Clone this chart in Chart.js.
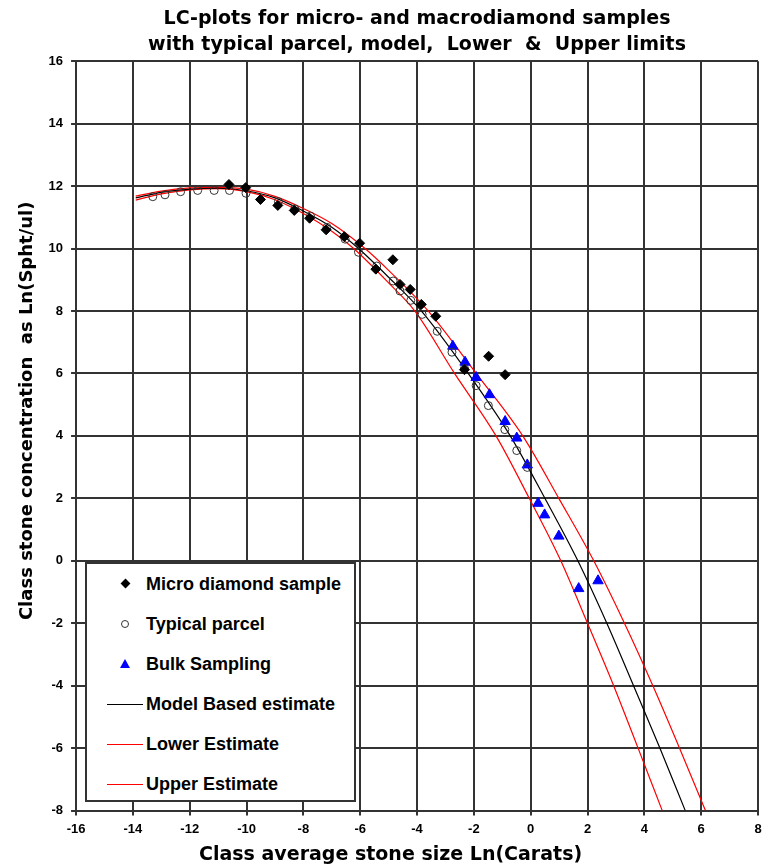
<!DOCTYPE html>
<html>
<head>
<meta charset="utf-8">
<script src="https://cdn.jsdelivr.net/npm/chart.js@4.4.0/dist/chart.umd.min.js"></script>
<style>
  body { margin: 0; background: #fff; font-family: "Liberation Sans", Arial, sans-serif; }
  #wrap { position: relative; width: 765px; height: 868px; }
  #legend {
    position: absolute; left: 85px; top: 562px; width: 267px; height: 236px;
    border: 2px solid #333; background: #fff;
  }
  .row { height: 40px; display: flex; align-items: center; font-weight: bold; font-size: 18px; color: #000; }
  .mk { width: 59px; height: 40px; position: relative; }
  .mk span { position: absolute; }
  .dia { width: 7px; height: 7px; background: #000; left: 35px; top: 16px; transform: rotate(45deg); }
  .cir { width: 6px; height: 6px; border: 1px solid #333; border-radius: 50%; left: 34px; top: 16px; }
  .tri { width: 0; height: 0; border-left: 5px solid transparent; border-right: 5px solid transparent;
         border-bottom: 9px solid #0000ff; left: 33px; top: 15px; }
  .ln { left: 20px; width: 36px; height: 0; top: 20px; border-top: 1.5px solid #000; }
  .ln.red { border-top-color: #ff0000; }
</style>
</head>
<body>
<div id="wrap">
  <canvas id="chart"></canvas>
  <div id="legend">
    <div class="row"><div class="mk"><span class="dia"></span></div>Micro diamond sample</div>
    <div class="row"><div class="mk"><span class="cir"></span></div>Typical parcel</div>
    <div class="row"><div class="mk"><span class="tri"></span></div>Bulk Sampling</div>
    <div class="row"><div class="mk"><span class="ln"></span></div>Model Based estimate</div>
    <div class="row"><div class="mk"><span class="ln red"></span></div>Lower Estimate</div>
    <div class="row"><div class="mk"><span class="ln red"></span></div>Upper Estimate</div>
  </div>
</div>
<script>
// Micro diamond sample
const microX = [-10.62, -10.03, -9.51, -8.9, -8.32, -7.78, -7.2, -6.56, -6.02, -5.45, -4.85, -4.6, -4.24, -3.85, -3.34, -2.33, -1.48, -0.9];
const microY = [12.05, 11.95, 11.57, 11.38, 11.22, 10.97, 10.6, 10.38, 10.17, 9.34, 9.64, 8.85, 8.69, 8.21, 7.83, 6.12, 6.55, 5.96];

// Typical parcel
const parcelX = [-13.3, -12.87, -12.32, -11.72, -11.14, -10.6, -10.02, -8.88, -8.3, -7.75, -7.17, -6.53, -6.06, -5.42, -4.84, -4.6, -4.22, -3.82, -3.29, -2.77, -2.33, -1.92, -1.49, -0.91, -0.49, -0.12];
const parcelY = [11.66, 11.72, 11.82, 11.86, 11.86, 11.86, 11.77, 11.5, 11.27, 11.04, 10.68, 10.3, 9.88, 9.44, 8.96, 8.64, 8.34, 7.89, 7.35, 6.68, 6.16, 5.61, 4.97, 4.2, 3.53, 2.99];

// Bulk Sampling
const bulkX = [-2.74, -2.31, -1.92, -1.45, -0.9, -0.49, -0.12, 0.26, 0.49, 0.99, 1.69, 2.37];
const bulkY = [6.87, 6.36, 5.87, 5.32, 4.46, 3.93, 3.07, 1.84, 1.47, 0.79, -0.89, -0.64];

// curves
const modelX = [-13.9, -13, -12, -11, -10, -9, -8, -7, -6.06, -5, -3.85, -2.2, -0.72, 0.5, 1.66, 2.68, 3.62, 4.55, 5.44];
const modelY = [11.62, 11.8, 11.9, 11.93, 11.85, 11.62, 11.2, 10.68, 10, 9.08, 8, 6, 4, 2, 0, -2, -4, -6, -8];
const lowerX = [-13.9, -13, -12, -11, -10, -9, -8, -7, -6.23, -5, -4.08, -2.68, -1.22, -0.05, 1.06, 2.0, 2.92, 3.78, 4.63];
const lowerY = [11.55, 11.75, 11.88, 11.92, 11.82, 11.56, 11.12, 10.55, 10, 8.9, 8, 6, 4, 2, 0, -2, -4, -6, -8];
const upperX = [-13.9, -13, -12, -11, -10, -9, -8, -7, -5.83, -5, -3.61, -1.92, -0.28, 0.99, 2.22, 3.3, 4.3, 5.24, 6.15];
const upperY = [11.68, 11.84, 11.94, 11.96, 11.9, 11.67, 11.28, 10.8, 10, 9.3, 8, 6, 4, 2, 0, -2, -4, -6, -8];

function pts(xs, ys) {
  return xs.map((x, i) => ({ x: x, y: ys[i] }));
}

const lineStyle = {
  showLine: true,
  pointRadius: 0,
  borderWidth: 1.2,
  fill: false,
  cubicInterpolationMode: "monotone"
};

const tickFont = { family: "'Liberation Sans', Arial, sans-serif", weight: "bold", size: 13 };
const titleFont = { family: "'DejaVu Sans', sans-serif", weight: "bold", size: 19 };

new Chart(document.getElementById("chart").getContext("2d"), {
  type: "scatter",
  data: {
    datasets: [
      {
        label: "Micro diamond sample",
        data: pts(microX, microY),
        pointStyle: "rectRot",
        pointRadius: 5,
        backgroundColor: "#000",
        borderColor: "#000",
        borderWidth: 1
      },
      {
        label: "Typical parcel",
        data: pts(parcelX, parcelY),
        pointStyle: "circle",
        pointRadius: 4,
        backgroundColor: "rgba(0,0,0,0)",
        borderColor: "#333",
        borderWidth: 1
      },
      {
        label: "Bulk Sampling",
        data: pts(bulkX, bulkY),
        pointStyle: "triangle",
        pointRadius: 6,
        backgroundColor: "#0000ff",
        borderColor: "#0000ff",
        borderWidth: 1
      },
      Object.assign({ label: "Model Based estimate", data: pts(modelX, modelY), borderColor: "#000" }, lineStyle),
      Object.assign({ label: "Lower Estimate", data: pts(lowerX, lowerY), borderColor: "#ff0000" }, lineStyle),
      Object.assign({ label: "Upper Estimate", data: pts(upperX, upperY), borderColor: "#ff0000" }, lineStyle)
    ]
  },
  options: {
    responsive: true,
    maintainAspectRatio: false,
    animation: false,
    layout: { padding: { left: 17, right: 0, bottom: 2 } },
    plugins: {
      legend: { display: false },
      tooltip: { enabled: false },
      title: {
        display: true,
        fullSize: false,
        text: ["LC-plots for micro- and macrodiamond samples", "with typical parcel, model,  Lower  &  Upper limits"],
        color: "#000",
        font: Object.assign({}, titleFont, { lineHeight: 1.32 }),
        padding: { top: 7, bottom: 4 }
      }
    },
    scales: {
      x: {
        type: "linear",
        min: -16,
        max: 8,
        // let the plot run almost to the right edge like the original
        afterFit: scale => { scale.paddingRight = 0; },
        ticks: { stepSize: 2, color: "#000", font: tickFont, padding: 6 },
        grid: { color: "#333", lineWidth: 2, tickLength: 5 },
        border: { color: "#333", width: 2 },
        title: {
          display: true,
          text: "Class average stone size Ln(Carats)" + "        ",
          color: "#000",
          font: titleFont,
          padding: { top: 0, bottom: 0 }
        }
      },
      y: {
        type: "linear",
        min: -8,
        max: 16,
        ticks: { stepSize: 2, color: "#000", font: tickFont, padding: 8 },
        grid: { color: "#333", lineWidth: 2, tickLength: 5 },
        border: { color: "#333", width: 2 },
        title: {
          display: true,
          text: "        " + "Class stone concentration  as Ln(Spht/ul)",
          color: "#000",
          font: Object.assign({}, titleFont, { size: 18 }),
          padding: { top: 0, bottom: 2 }
        }
      }
    }
  }
});
</script>
</body>
</html>
